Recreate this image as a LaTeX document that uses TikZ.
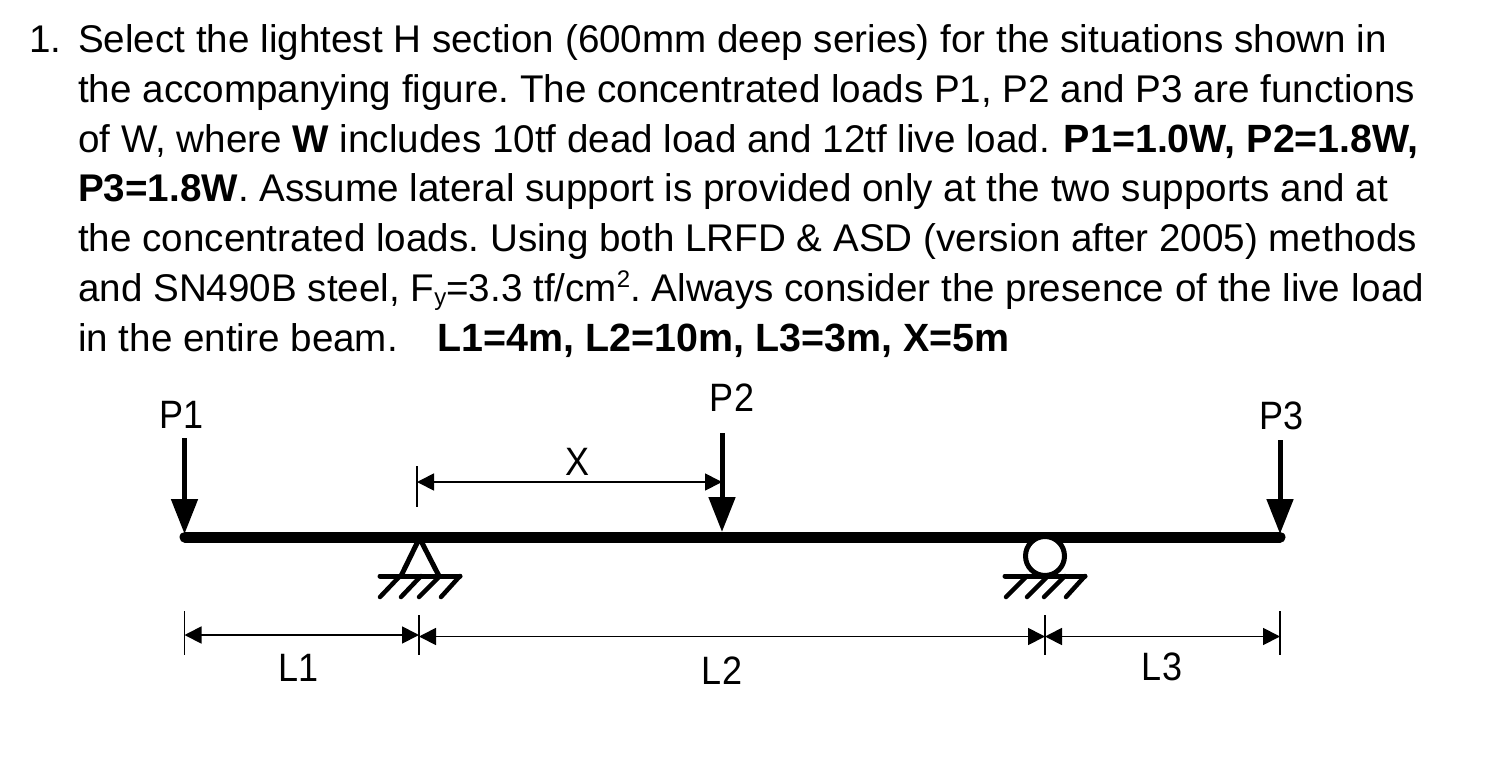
\documentclass[tikz,border=0pt]{standalone}
\usepackage{fontspec}
\usepackage{graphicx}
\setmainfont{Liberation Sans}
\usetikzlibrary{arrows.meta}
\newcommand{\supt}[1]{\raisebox{14pt}{\fontsize{24}{24}\selectfont #1}}
\newcommand{\subt}[1]{\raisebox{-4pt}{\fontsize{24}{24}\selectfont #1}}
\newcommand{\bigbold}[1]{{\fontsize{39.4}{46}\selectfont\bfseries #1}}
\newcommand{\tall}[1]{\scalebox{1}[1.1]{#1}}
\tikzset{
  x=1pt,y=-1pt,
  textline/.style={anchor=base west,inner sep=0pt,font=\fontsize{38.6}{46}\selectfont\frenchspacing},
  lbl/.style={anchor=center,inner sep=0pt,font=\fontsize{36}{44}\selectfont},
  beam/.style={line width=11pt,line cap=round},
  load/.style={line width=5pt,-{Triangle[length=35pt,width=26pt]}},
  dim/.style={line width=1.8pt,{Triangle[length=17pt,width=17pt]}-{Triangle[length=17pt,width=17pt]}},
  ext/.style={line width=1.5pt},
  ground/.style={line width=5pt,line cap=round},
  hatch/.style={line width=4.5pt,line cap=round},
  sup/.style={line width=5pt},
}
\begin{document}
\begin{tikzpicture}
\useasboundingbox (0,0) rectangle (1488,779);
\fill[white] (0,0) rectangle (1488,779);
% text
\node[textline] (t0) at (29,52) {1.};
\node[textline] (t1) at (78,52) {Select the lightest H section (600mm deep series) for the situations shown in};
\node[textline] (t2) at (78,102) {the accompanying figure. The concentrated loads P1, P2 and P3 are functions};
\node[textline] (t3) at (78,152) {of W, where \textbf{W} includes 10tf dead load and 12tf live load.\hspace{3pt} \bigbold{P1=1.0W, P2=1.8W,}};
\node[textline] (t4) at (78,201) {\textbf{P3=1.8W}. Assume lateral support is provided only at the two supports and at};
\node[textline] (t5) at (78,251) {the concentrated loads. Using both LRFD \& ASD (version after 2005) methods};
\node[textline] (t6) at (78,301) {and SN490B steel, F\subt{y}=3.3 tf/cm\supt{2}. Always consider the presence of the live load};
\node[textline] (t7) at (78,351) {in the entire beam.\hspace{40pt}\bigbold{L1=4m, L2=10m, L3=3m, X=5m}};
% coordinates
\coordinate (bl) at (185,537);
\coordinate (br) at (1280,537);
\coordinate (p1top) at (184.5,438);
\coordinate (p1tip) at (184.5,534);
\coordinate (p2top) at (722,433);
\coordinate (p2tip) at (722,532);
\coordinate (p3top) at (1280,440);
\coordinate (p3tip) at (1280,534);
\coordinate (xa) at (417,482);
\coordinate (xb) at (722,482);
\coordinate (xa1) at (417,466);
\coordinate (xa2) at (417,507);
\coordinate (e1a) at (184.5,611);
\coordinate (e1b) at (184.5,655);
\coordinate (e2a) at (419,615);
\coordinate (e2b) at (419,655);
\coordinate (e3a) at (1045,615);
\coordinate (e3b) at (1045,655);
\coordinate (e4a) at (1280,611);
\coordinate (e4b) at (1280,655);
\coordinate (d1a) at (184.5,635);
\coordinate (d1b) at (419,635);
\coordinate (d2a) at (419,636.5);
\coordinate (d2b) at (1045,636.5);
\coordinate (d3a) at (1045,636.5);
\coordinate (d3b) at (1280,636.5);
% beam
\draw[beam] (bl) -- (br);
% loads
\draw[load] (p1top) -- (p1tip);
\draw[load] (p2top) -- (p2tip);
\draw[load] (p3top) -- (p3tip);
% pin support
\draw[sup,line join=miter] (401,576) -- (419.5,538) -- (439,576);
\draw[ground] (380,576) -- (460,576);
\draw[hatch] (400,576) -- (380,597) (421,576) -- (401,597) (440,576) -- (419,597) (460,576) -- (441,597);
% roller support
\draw[sup,fill=white] (1045,556) circle (19.5);
\draw[ground] (1005,576) -- (1085,576);
\draw[hatch] (1027,576) -- (1006,597) (1048,576) -- (1027,597) (1065,576) -- (1044,597) (1085,576) -- (1066,597);
% dimensions
\draw[ext] (xa1) -- (xa2);
\draw[dim] (xa) -- (xb);
\draw[ext] (e1a) -- (e1b);
\draw[ext] (e2a) -- (e2b);
\draw[ext] (e3a) -- (e3b);
\draw[ext] (e4a) -- (e4b);
\draw[dim] (d1a) -- (d1b);
\draw[dim] (d2a) -- (d2b);
\draw[dim] (d3a) -- (d3b);
% labels
\node[lbl] (lp1) at (182,415) {\tall{P1}};
\node[lbl] (lp2) at (732,398) {\tall{P2}};
\node[lbl] (lp3) at (1281,416) {\tall{P3}};
\node[lbl] (lx) at (577,462) {\tall{X}};
\node[lbl] (ll1) at (299,668) {\tall{L1}};
\node[lbl] (ll2) at (722,671) {\tall{L2}};
\node[lbl] (ll3) at (1162,667) {\tall{L3}};
\end{tikzpicture}
\end{document}
